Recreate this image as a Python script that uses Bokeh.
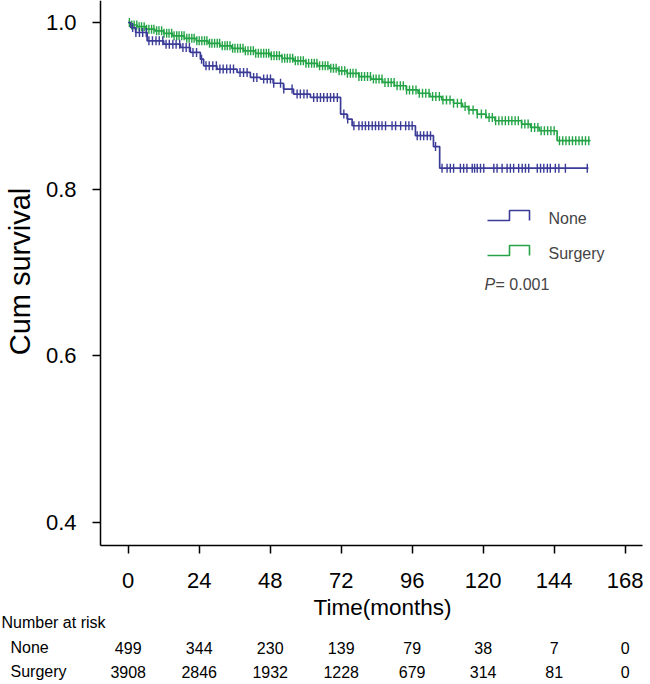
import numpy as np
from bokeh.plotting import figure
from bokeh.models import Range1d, FixedTicker, PrintfTickFormatter, Label
from bokeh.core.properties import value
from bokeh.embed import file_html
from bokeh.resources import INLINE

# ---------------- data ----------------
groups = ["None", "Surgery"]
tick_months = [0, 24, 48, 72, 96, 120, 144, 168]
y_ticks = [0.4, 0.6, 0.8, 1.0]

none_times = [0, 0.8, 2.5, 6.4, 12.0, 17.7, 21.0, 24.4, 25.5, 30.0, 36.8, 41.3, 44.7,
              49.0, 52.5, 55.9, 61.6, 71.8, 74.0, 75.7, 97.1, 103.2, 105.3]
none_surv = [1.0, 0.994, 0.988, 0.978, 0.974, 0.970, 0.964, 0.956, 0.948, 0.944, 0.940,
             0.934, 0.932, 0.927, 0.920, 0.914, 0.910, 0.890, 0.884, 0.876, 0.864, 0.851, 0.825]
none_end = 155.6

surg_times = [0, 1, 3, 6, 9, 12, 15, 19, 23, 27, 31, 35, 39, 43, 48, 52, 56, 60, 64, 68,
              71, 74, 78, 82, 86, 90, 94, 98, 102, 106, 110, 113, 115, 118, 121, 124, 133,
              136, 139, 145]
surg_surv = [1.0, 0.997, 0.995, 0.992, 0.990, 0.987, 0.984, 0.981, 0.978, 0.975, 0.972,
             0.969, 0.966, 0.963, 0.960, 0.957, 0.954, 0.951, 0.948, 0.945, 0.942, 0.939,
             0.935, 0.932, 0.928, 0.924, 0.919, 0.915, 0.911, 0.907, 0.903, 0.899, 0.895,
             0.890, 0.886, 0.882, 0.878, 0.874, 0.870, 0.858]
surg_end = 156.3

none_censor = [1.5, 2.6, 3.8, 4.9, 6.1, 7.0, 8.2, 9.4, 10.5, 11.7, 12.8, 13.9, 15.1, 16.2,
               17.4, 18.5, 19.6, 20.7, 21.9, 23.1, 24.8, 26.3, 27.4, 28.6, 29.8, 31.0, 32.1,
               33.3, 34.5, 35.6, 37.8, 39.0, 40.2, 42.4, 43.5, 45.8, 47.0, 48.1, 49.2, 51.5,
               52.6, 55.4, 57.1, 58.2, 59.4, 60.5, 62.7, 63.9, 65.0, 66.1, 67.3, 68.4, 69.5,
               70.7, 72.9, 74.2, 76.3, 78.0, 79.1, 80.2, 81.3, 82.5, 83.6, 84.7, 85.8, 87.0,
               89.2, 90.4, 92.1, 93.8, 94.9, 96.0, 97.7, 98.8, 99.9, 101.1, 102.2, 103.9,
               106.1, 107.8, 108.9, 110.0, 112.3, 113.4, 114.5, 116.3, 117.1, 118.0, 119.1,
               120.2, 123.6, 124.7, 126.4, 128.1, 129.2, 130.3, 132.0, 133.2, 134.3, 135.4,
               138.3, 139.4, 140.5, 141.7, 142.7, 144.4, 145.6, 147.8, 155.2]

surg_censor = [0.4, 1.2, 2.0, 2.9, 3.7, 4.5, 5.4, 6.2, 7.0, 7.9, 8.7, 9.6, 10.4, 11.3, 12.1,
               13.0, 13.8, 14.7, 15.5, 16.4, 17.2, 18.1, 18.9, 19.8, 20.6, 21.5, 22.3, 23.2,
               24.0, 24.9, 25.8, 26.6, 27.5, 28.3, 29.2, 30.1, 30.9, 31.8, 32.7, 33.5, 34.4,
               35.3, 36.1, 37.0, 37.9, 38.8, 39.6, 40.5, 41.4, 42.3, 43.1, 44.0, 44.9, 45.8,
               46.7, 47.5, 48.4, 49.3, 50.2, 51.1, 52.0, 52.9, 53.8, 54.7, 55.6, 56.5, 57.4,
               58.3, 59.2, 60.1, 61.0, 62.0, 62.9, 63.8, 64.7, 65.7, 66.6, 67.5, 68.5, 69.4,
               70.3, 71.3, 72.2, 73.2, 74.1, 75.1, 76.0, 77.0, 78.0, 78.9, 79.9, 80.9, 81.9,
               82.9, 83.8, 84.8, 85.8, 86.8, 87.9, 88.9, 89.9, 90.9, 92.0, 93.0, 94.1, 95.1,
               96.2, 97.3, 98.4, 99.5, 100.6, 101.7, 102.9, 104.0, 105.2, 106.4, 107.6, 108.8,
               110.0, 111.3, 112.6, 113.9, 115.2, 116.6, 118.0, 119.4, 120.9, 122.0, 123.1,
               124.2, 125.3, 126.4, 127.5, 128.6, 129.7, 130.8, 131.9, 133.0, 134.1, 135.2,
               136.3, 137.4, 138.5, 139.6, 140.7, 141.8, 142.9, 144.0, 145.8, 146.9, 148.0,
               149.1, 150.2, 151.3, 152.4, 153.5, 154.6, 155.7]

risk_none = [499, 344, 230, 139, 79, 38, 7, 0]
risk_surg = [3908, 2846, 1932, 1228, 679, 314, 81, 0]
p_text = "= 0.001"

# ---------------- styling / geometry ----------------
BLUE = "#3b3b98"
GREEN = "#24a446"
FONT = "Liberation Sans"
W, H = 650, 684

# pixel -> data conversions (axis calibration)
def mx(px):
    return (px - 127.7) / 2.958

def vy(py):
    return 1.0 - (py - 22.0) / 832.5

AX_LEFT, AX_RIGHT, AX_TOP, AX_BOTTOM = 100, 642, 0, 545

p = figure(width=W, height=H, output_backend="svg", toolbar_location=None,
           x_range=Range1d(mx(0), mx(W)), y_range=Range1d(vy(H), vy(0)),
           min_border=0, min_border_left=0, min_border_right=0,
           min_border_top=0, min_border_bottom=0)
p.outline_line_color = None
p.xgrid.visible = False
p.ygrid.visible = False
p.background_fill_color = "white"
p.border_fill_color = "white"

for ax in (p.xaxis[0], p.yaxis[0]):
    ax.axis_line_color = "black"
    ax.axis_line_width = 1.5
    ax.major_tick_line_color = "black"
    ax.major_tick_line_width = 1.5
    ax.major_tick_in = 0
    ax.major_tick_out = 8
    ax.minor_tick_line_color = None
    ax.major_label_text_font = FONT
    ax.major_label_text_font_size = "22px"
    ax.major_label_text_color = "black"

p.xaxis[0].fixed_location = vy(AX_BOTTOM)
p.xaxis[0].bounds = (mx(AX_LEFT), mx(AX_RIGHT))
p.yaxis[0].fixed_location = mx(AX_LEFT)
p.yaxis[0].bounds = (vy(AX_BOTTOM), vy(AX_TOP))

p.xaxis[0].ticker = FixedTicker(ticks=tick_months)
p.yaxis[0].ticker = FixedTicker(ticks=y_ticks)
p.yaxis[0].formatter = PrintfTickFormatter(format="%.1f")
p.xaxis[0].major_label_standoff = 19
p.yaxis[0].major_label_standoff = 16


def step_xy(times, surv, end):
    return list(times) + [end], list(surv) + [surv[-1]]


def surv_at(times, surv, t):
    idx = np.searchsorted(np.array(times), t, side="right") - 1
    return [surv[i] for i in idx]


for times, surv, end, cens, col in [(surg_times, surg_surv, surg_end, surg_censor, GREEN),
                                     (none_times, none_surv, none_end, none_censor, BLUE)]:
    xs, ys = step_xy(times, surv, end)
    p.step(xs, ys, mode="after", line_color=col, line_width=1.7)
    p.scatter(cens, surv_at(times, surv, cens), marker="dash", angle=np.pi / 2,
              size=9, line_color=col, line_width=1.4)

# legend (drawn manually, step-shaped symbols)
for py_lo, col, name in [(220, BLUE, groups[0]), (255, GREEN, groups[1])]:
    lx = [mx(487), mx(509), mx(509), mx(529), mx(529)]
    ly = [vy(py_lo), vy(py_lo), vy(py_lo - 10), vy(py_lo - 10), vy(py_lo)]
    p.line(lx, ly, line_color=col, line_width=1.6)
    p.add_layout(Label(x=mx(548), y=vy(py_lo - 2), text=name, text_font=FONT,
                       text_font_size="16px", text_baseline="middle", text_align="left"))

p.add_layout(Label(x=mx(484), y=vy(284), text="P", text_font=FONT, text_font_style="italic",
                   text_font_size="16px", text_baseline="middle", text_align="left"))
p.add_layout(Label(x=mx(495), y=vy(284), text=p_text, text_font=FONT,
                   text_font_size="16px", text_baseline="middle", text_align="left"))

# axis titles
p.text(x=[mx(19)], y=[vy(271)], text=["Cum survival"], angle=np.pi / 2,
       text_font=value(FONT), text_font_size=value("29px"), text_align="center",
       text_baseline="middle", text_color="black")
p.text(x=[mx(382)], y=[vy(607)], text=["Time(months)"], text_font=value(FONT),
       text_font_size=value("22.5px"), text_align="center", text_baseline="middle",
       text_color="black")

# number-at-risk table
p.text(x=[mx(1)], y=[vy(622)], text=["Number at risk"], text_font=value(FONT),
       text_font_size=value("16px"), text_align="left", text_baseline="middle",
       text_color="black")
for row_px, name, vals in [(647, groups[0], risk_none), (671, groups[1], risk_surg)]:
    p.text(x=[mx(10)], y=[vy(row_px)], text=[name], text_font=value(FONT),
           text_font_size=value("16px"), text_align="left", text_baseline="middle",
           text_color="black")
    p.text(x=tick_months, y=[vy(row_px)] * len(vals), text=[str(v) for v in vals],
           text_font=value(FONT), text_font_size=value("16px"), text_align="center",
           text_baseline="middle", text_color="black")

open("out.html", "w").write(file_html(p, INLINE))
